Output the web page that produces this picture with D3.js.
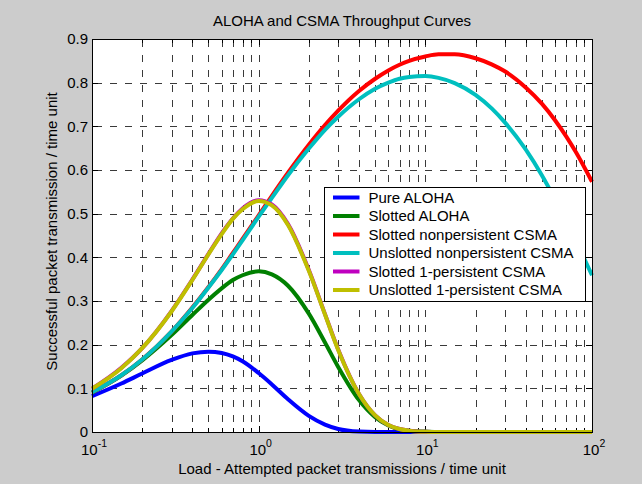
<!DOCTYPE html>
<html>
<head>
<meta charset="utf-8">
<script src="https://cdn.jsdelivr.net/npm/d3@7"></script>
<style>
  html, body { margin: 0; padding: 0; background: #cccccc; }
  svg { display: block; }
  text { font-family: "Liberation Sans", Arial, Helvetica, sans-serif; fill: #000; }
</style>
</head>
<body>
<svg id="chart" width="642" height="484"></svg>
<script>
// ---- data ----
const loads = [0.1,0.15,0.2,0.3,0.4,0.5,0.6,0.7,0.8,1,1.2,1.5,2,2.5,3,4,5,6,7,8,10,12,15,20,25,30,40,50,60,70,80,100];
const pureAloha = [0.082,0.111,0.134,0.165,0.180,0.184,0.181,0.173,0.162,0.135,0.109,0.075,0.037,0.017,0.007,0.001,0,0,0,0,0,0,0,0,0,0,0,0,0,0,0,0];
const slottedAloha = [0.090,0.129,0.164,0.222,0.268,0.303,0.329,0.348,0.359,0.368,0.361,0.335,0.271,0.205,0.149,0.073,0.034,0.015,0.006,0.003,0.001,0,0,0,0,0,0,0,0,0,0,0];
const slottedNonpersistent = [0.091,0.130,0.166,0.230,0.285,0.332,0.373,0.410,0.442,0.496,0.541,0.594,0.658,0.703,0.736,0.781,0.809,0.828,0.841,0.850,0.860,0.865,0.865,0.856,0.842,0.826,0.789,0.752,0.714,0.677,0.641,0.573];
const unslottedNonpersistent = [0.091,0.130,0.166,0.230,0.284,0.331,0.371,0.407,0.439,0.493,0.536,0.588,0.649,0.692,0.722,0.762,0.786,0.800,0.809,0.813,0.815,0.811,0.799,0.772,0.741,0.709,0.647,0.588,0.533,0.484,0.438,0.359];
const slotted1Persistent = [0.099,0.147,0.192,0.277,0.349,0.408,0.455,0.489,0.512,0.531,0.521,0.476,0.371,0.270,0.189,0.087,0.038,0.016,0.007,0.003,0.0005,0,0,0,0,0,0,0,0,0,0,0];
const unslotted1Persistent = [0.099,0.146,0.192,0.276,0.348,0.407,0.453,0.488,0.510,0.529,0.519,0.474,0.369,0.269,0.188,0.087,0.038,0.016,0.007,0.003,0.0004,0,0,0,0,0,0,0,0,0,0,0];

const seriesNames = ["Pure ALOHA","Slotted ALOHA","Slotted nonpersistent CSMA","Unslotted nonpersistent CSMA","Slotted 1-persistent CSMA","Unslotted 1-persistent CSMA"];
const seriesValues = [pureAloha, slottedAloha, slottedNonpersistent, unslottedNonpersistent, slotted1Persistent, unslotted1Persistent];
const seriesColors = ["#0000ff","#008000","#ff0000","#00bfbf","#bf00bf","#bfbf00"];

const xTickExponents = [-1, 0, 1, 2];
const yTicks = [0,0.1,0.2,0.3,0.4,0.5,0.6,0.7,0.8,0.9];
const titleText = "ALOHA and CSMA Throughput Curves";
const xLabelText = "Load - Attempted packet transmissions / time unit";
const yLabelText = "Successful packet transmission / time unit";

// ---- layout ----
const svg = d3.select("#chart");
const W = 642, H = 484;
const plot = { left: 92, top: 39, right: 592, bottom: 432 };
const FONT = 15;
const LW = 4;

svg.append("rect").attr("width", W).attr("height", H).attr("fill", "#cccccc");

const x = d3.scaleLog().domain([0.1, 100]).range([plot.left, plot.right]);
const y = d3.scaleLinear().domain([0, 0.9]).range([plot.bottom, plot.top]);

// plot background
svg.append("rect")
  .attr("x", plot.left).attr("y", plot.top)
  .attr("width", plot.right - plot.left).attr("height", plot.bottom - plot.top)
  .attr("fill", "#ffffff");

// all log ticks (major + minor)
const allXTicks = x.ticks();
const gridColor = "#3a3a3a";

// vertical grid lines
svg.append("g").selectAll("line")
  .data(allXTicks.filter(t => t > 0.1 && t < 100))
  .join("line")
  .attr("x1", d => Math.round(x(d)) + 0.5).attr("x2", d => Math.round(x(d)) + 0.5)
  .attr("y1", plot.top).attr("y2", plot.bottom)
  .attr("stroke", gridColor).attr("stroke-width", 1)
  .attr("stroke-dasharray", "7,8").attr("stroke-dashoffset", -1);

// horizontal grid lines
svg.append("g").selectAll("line")
  .data(yTicks.filter(t => t > 0 && t < 0.9))
  .join("line")
  .attr("x1", plot.left).attr("x2", plot.right)
  .attr("y1", d => Math.round(y(d)) + 0.5).attr("y2", d => Math.round(y(d)) + 0.5)
  .attr("stroke", gridColor).attr("stroke-width", 1)
  .attr("stroke-dasharray", "7,8").attr("stroke-dashoffset", -3);

// tick marks (inward), bottom/top and left/right
const tickG = svg.append("g").attr("stroke", "#000").attr("stroke-width", 1);
allXTicks.forEach(t => {
  const isMajor = Math.abs(Math.log10(t) - Math.round(Math.log10(t))) < 1e-9;
  const len = isMajor ? 6 : 4;
  const px = Math.round(x(t)) + 0.5;
  tickG.append("line").attr("x1", px).attr("x2", px).attr("y1", plot.bottom).attr("y2", plot.bottom - len);
  tickG.append("line").attr("x1", px).attr("x2", px).attr("y1", plot.top).attr("y2", plot.top + len);
});
yTicks.forEach(t => {
  const py = Math.round(y(t)) + 0.5;
  tickG.append("line").attr("x1", plot.left).attr("x2", plot.left + 6).attr("y1", py).attr("y2", py);
  tickG.append("line").attr("x1", plot.right).attr("x2", plot.right - 6).attr("y1", py).attr("y2", py);
});

// y tick labels
svg.append("g").selectAll("text")
  .data(yTicks)
  .join("text")
  .attr("x", plot.left - 4)
  .attr("y", d => y(d))
  .attr("dy", "0.36em")
  .attr("text-anchor", "end")
  .attr("font-size", FONT)
  .text(d => d === 0 ? "0" : d3.format(".1f")(d));

// x tick labels 10^n
const xl = svg.append("g");
xTickExponents.forEach(e => {
  const t = xl.append("text")
    .attr("x", x(Math.pow(10, e)) + 2)
    .attr("y", plot.bottom + 23)
    .attr("text-anchor", "middle")
    .attr("font-size", FONT);
  t.append("tspan").text("10");
  t.append("tspan").attr("font-size", 10.5).attr("dy", -8).text(String(e));
});

// curves
const line = d3.line()
  .x((d, i) => x(loads[i]))
  .y(d => y(d))
  .curve(d3.curveMonotoneX);

svg.append("g").selectAll("path")
  .data(seriesValues)
  .join("path")
  .attr("d", d => line(d))
  .attr("fill", "none")
  .attr("stroke", (d, i) => seriesColors[i])
  .attr("stroke-width", LW)
  .attr("stroke-linejoin", "round");

// axes box
svg.append("rect")
  .attr("x", plot.left + 0.5).attr("y", plot.top + 0.5)
  .attr("width", plot.right - plot.left).attr("height", plot.bottom - plot.top)
  .attr("fill", "none").attr("stroke", "#000").attr("stroke-width", 1);

// title and axis labels
svg.append("text")
  .attr("x", (plot.left + plot.right) / 2)
  .attr("y", 26)
  .attr("text-anchor", "middle")
  .attr("font-size", FONT)
  .text(titleText);

svg.append("text")
  .attr("x", (plot.left + plot.right) / 2)
  .attr("y", 474)
  .attr("text-anchor", "middle")
  .attr("font-size", FONT)
  .text(xLabelText);

svg.append("text")
  .attr("transform", `translate(57, ${(plot.top + plot.bottom) / 2 - 4}) rotate(-90)`)
  .attr("text-anchor", "middle")
  .attr("font-size", FONT)
  .text(yLabelText);

// legend
const leg = { x: 324.5, y: 187.5, w: 261, h: 114 };
const lg = svg.append("g");
lg.append("rect")
  .attr("x", leg.x).attr("y", leg.y).attr("width", leg.w).attr("height", leg.h)
  .attr("fill", "#ffffff").attr("stroke", "#000").attr("stroke-width", 1);
seriesNames.forEach((name, i) => {
  const cy = leg.y + 10 + i * 18.5;
  lg.append("line")
    .attr("x1", leg.x + 8.5).attr("x2", leg.x + 35)
    .attr("y1", cy).attr("y2", cy)
    .attr("stroke", seriesColors[i]).attr("stroke-width", LW);
  lg.append("text")
    .attr("x", leg.x + 44).attr("y", cy)
    .attr("dy", "0.36em")
    .attr("font-size", FONT)
    .text(name);
});
</script>
</body>
</html>
